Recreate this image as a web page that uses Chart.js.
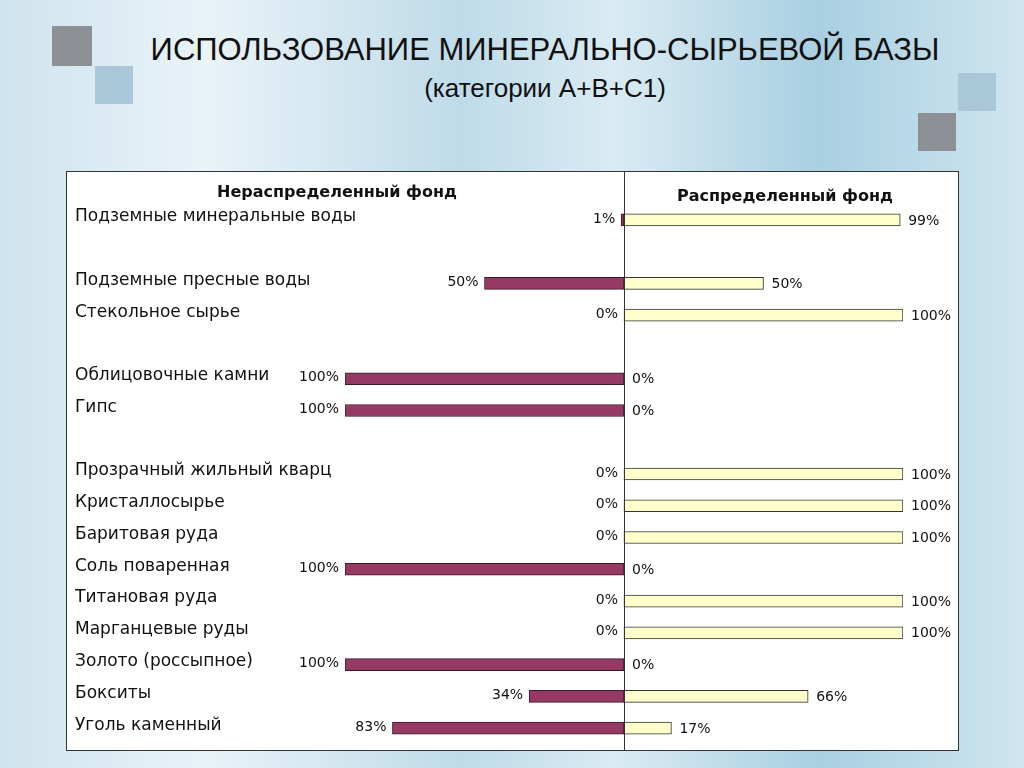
<!DOCTYPE html>
<html><head><meta charset="utf-8">
<script src="https://cdn.jsdelivr.net/npm/chart.js@4"></script>
<style>
body{margin:0;width:1024px;height:768px;overflow:hidden;font-family:"Liberation Sans",Arial,sans-serif;
 background:linear-gradient(90deg,#cfe3ee 0%,#e9f3f8 20%,#bfdbe9 45%,#d9ebf3 60%,#a9cfe2 80%,#cfe5ef 100%);position:relative}
.sq{position:absolute}
#title{position:absolute;left:90px;width:910px;top:32px;text-align:center;font-size:31px;color:#111}
#sub{position:absolute;left:90px;width:910px;top:73px;text-align:center;font-size:26px;color:#111}
#box{position:absolute;left:66px;top:171px;width:891px;height:578px;background:#fff;border:1px solid #333}
</style></head><body>
<div class="sq" style="left:52px;top:26px;width:40px;height:40px;background:#8d9195"></div>
<div class="sq" style="left:95px;top:66px;width:38px;height:38px;background:#a9c7d8"></div>
<div class="sq" style="left:958px;top:73px;width:38px;height:38px;background:#a9c7d8"></div>
<div class="sq" style="left:918px;top:113px;width:38px;height:38px;background:#8d9195"></div>
<div id="title">ИСПОЛЬЗОВАНИЕ МИНЕРАЛЬНО-СЫРЬЕВОЙ БАЗЫ</div>
<div id="sub">(категории А+В+С1)</div>
<div id="box"><canvas id="c" width="891" height="578"></canvas></div>
<script>
const categories = ['Подземные минеральные воды', '', 'Подземные пресные воды', 'Стекольное сырье', '',
  'Облицовочные камни', 'Гипс', '', 'Прозрачный жильный кварц', 'Кристаллосырье', 'Баритовая руда',
  'Соль поваренная', 'Титановая руда', 'Марганцевые руды', 'Золото (россыпное)', 'Бокситы', 'Уголь каменный'];
const undistributed = [1, null, 50, 0, null, 100, 100, null, 0, 0, 0, 100, 0, 0, 100, 34, 83];
const distributed = [99, null, 50, 100, null, 0, 0, null, 100, 100, 100, 0, 100, 100, 0, 66, 17];

const overlay = {
    id: 'overlay',
    afterDatasetsDraw(chart) {
        const ctx = chart.ctx;
        const x = chart.scales.x, y = chart.scales.y;
        const x0 = x.getPixelForValue(0);
        ctx.save();
        ctx.strokeStyle = '#333';
        ctx.lineWidth = 1;
        ctx.beginPath();
        ctx.moveTo(x0 + 0.5, 0);
        ctx.lineTo(x0 + 0.5, chart.height);
        ctx.stroke();
        ctx.fillStyle = '#111';
        ctx.font = 'bold 16px "DejaVu Sans"';
        ctx.textAlign = 'center';
        ctx.fillText('Нераспределенный фонд', 270, 25);
        ctx.fillText('Распределенный фонд', 718, 29);
        ctx.textAlign = 'left';
        ctx.textBaseline = 'middle';
        ctx.font = '17px "DejaVu Sans"';
        categories.forEach(function (c, i) {
            if (c) ctx.fillText(c, 8, y.getPixelForValue(i) - 3);
        });
        ctx.font = '14px "DejaVu Sans"';
        for (let i = 0; i < categories.length; i++) {
            if (undistributed[i] === null) continue;
            const py = y.getPixelForValue(i);
            ctx.textAlign = 'right';
            ctx.fillText(undistributed[i] + '%', x.getPixelForValue(-undistributed[i]) - 6, py - 1);
            ctx.textAlign = 'left';
            ctx.fillText(distributed[i] + '%', x.getPixelForValue(distributed[i]) + 8, py + 1);
        }
        ctx.restore();
    }
};

new Chart(document.getElementById('c'), {
    type: 'bar',
    data: {
        labels: categories,
        datasets: [{
            data: undistributed.map(v => v === null ? null : -v),
            backgroundColor: '#963a64',
            borderColor: '#3a1a28',
            borderWidth: 1,
            borderSkipped: false,
            barThickness: 12
        }, {
            data: distributed,
            backgroundColor: '#ffffcc',
            borderColor: '#333',
            borderWidth: 1,
            borderSkipped: false,
            barThickness: 12
        }]
    },
    options: {
        indexAxis: 'y',
        responsive: false,
        animation: false,
        layout: { padding: { left: 278, right: 55, top: 32, bottom: 6 } },
        scales: {
            x: { display: false, min: -100, max: 100 },
            y: { display: false, stacked: true }
        },
        plugins: { legend: { display: false }, tooltip: { enabled: false } }
    },
    plugins: [overlay]
});
</script>
</body></html>
